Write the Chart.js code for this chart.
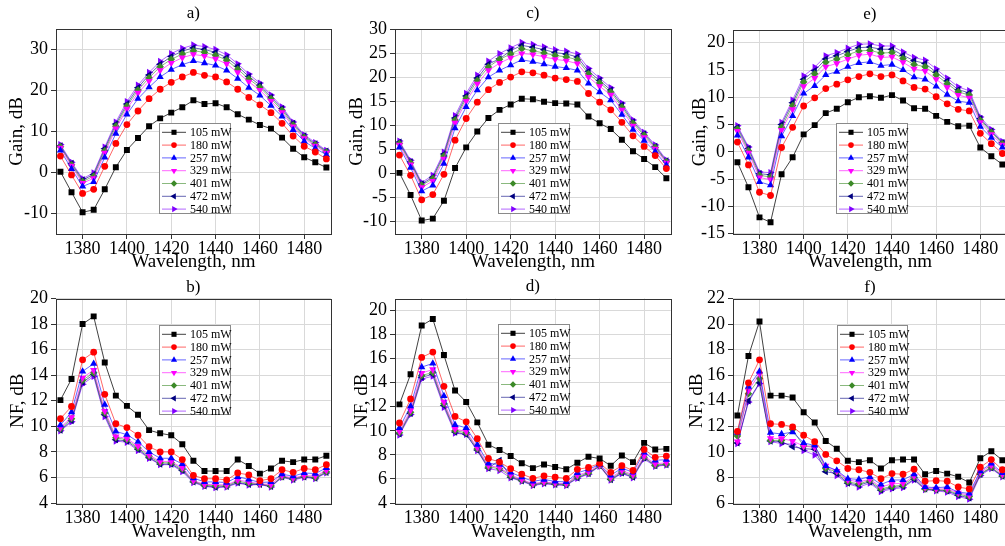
<!DOCTYPE html>
<html>
<head>
<meta charset="utf-8">
<script src="https://cdn.jsdelivr.net/npm/chart.js@4.4.0/dist/chart.umd.min.js"></script>
<style>
  html, body { margin: 0; padding: 0; background: #fff; }
  #wrap { position: relative; width: 1005px; height: 546px; overflow: hidden; }
  canvas { position: absolute; }
</style>
</head>
<body>
<div id="wrap">
  <canvas id="pa" width="335" height="273" style="left:0;top:0"></canvas>
  <canvas id="pc" width="340" height="273" style="left:335px;top:0"></canvas>
  <canvas id="pe" width="336" height="273" style="left:675px;top:0"></canvas>
  <canvas id="pb" width="335" height="273" style="left:0;top:273px"></canvas>
  <canvas id="pd" width="340" height="273" style="left:335px;top:273px"></canvas>
  <canvas id="pf" width="336" height="273" style="left:675px;top:273px"></canvas>
</div>
<script>
// wavelengths, nm
const wavelengths = [1370, 1375, 1380, 1385, 1390, 1395, 1400, 1405, 1410, 1415, 1420, 1425, 1430,
                     1435, 1440, 1445, 1450, 1455, 1460, 1465, 1470, 1475, 1480, 1485, 1490];
const powers = ['105 mW', '180 mW', '257 mW', '329 mW', '401 mW', '472 mW', '540 mW'];

const xTicks = [1380, 1400, 1420, 1440, 1460, 1480];
const gainTicksA = [-10, 0, 10, 20, 30];
const gainTicksC = [-10, -5, 0, 5, 10, 15, 20, 25, 30];
const gainTicksE = [-15, -10, -5, 0, 5, 10, 15, 20];
const nfTicksB = [4, 6, 8, 10, 12, 14, 16, 18, 20];
const nfTicksD = [4, 6, 8, 10, 12, 14, 16, 18, 20];
const nfTicksF = [6, 8, 10, 12, 14, 16, 18, 20, 22];

// gain, dB (rows follow powers)
const gainA = [
  [0.2, -4.8, -9.7, -9.1, -4.1, 1.3, 5.5, 8.4, 11.3, 13.2, 14.6, 15.9, 17.6, 16.7, 16.9, 15.9, 14.2, 12.9, 11.6, 10.7, 8.5, 5.8, 3.7, 2.5, 1.2],
  [4.0, -0.6, -5.1, -4.1, 1.5, 7.1, 11.7, 15.0, 18.0, 20.3, 22.0, 23.3, 24.4, 23.7, 23.3, 22.1, 20.3, 18.3, 16.5, 14.6, 12.0, 8.9, 6.4, 5.0, 3.3],
  [5.4, 0.9, -3.4, -2.3, 3.7, 9.5, 14.2, 18.0, 20.8, 23.3, 25.1, 26.3, 27.2, 26.7, 26.1, 24.9, 22.9, 20.7, 18.8, 16.3, 13.7, 10.4, 7.6, 5.9, 4.3],
  [6.0, 1.6, -2.6, -1.4, 4.8, 10.7, 15.5, 19.4, 22.3, 24.9, 26.7, 28.0, 28.8, 28.4, 27.7, 26.5, 24.4, 22.1, 20.1, 17.4, 14.7, 11.2, 8.3, 6.5, 4.8],
  [6.3, 1.9, -2.2, -0.9, 5.3, 11.3, 16.2, 20.1, 23.1, 25.8, 27.6, 28.9, 29.7, 29.3, 28.6, 27.4, 25.2, 22.8, 20.8, 18.0, 15.2, 11.6, 8.6, 6.8, 5.0],
  [6.5, 2.2, -1.8, -0.5, 5.8, 11.8, 16.7, 20.7, 23.8, 26.4, 28.3, 29.6, 30.4, 30.0, 29.3, 28.0, 25.9, 23.4, 21.3, 18.4, 15.6, 12.0, 8.9, 7.0, 5.2],
  [6.8, 2.5, -1.5, -0.1, 6.2, 12.3, 17.3, 21.3, 24.4, 27.1, 29.0, 30.3, 31.1, 30.7, 30.0, 28.7, 26.5, 24.0, 21.8, 18.9, 16.0, 12.3, 9.2, 7.3, 5.4]
];
const gainC = [
  [0.1, -4.5, -9.8, -9.4, -5.7, 1.1, 5.4, 8.7, 11.5, 13.2, 14.3, 15.5, 15.4, 14.9, 14.6, 14.5, 14.3, 11.8, 10.4, 9.2, 7.0, 4.6, 3.0, 1.3, -1.0],
  [3.8, -0.4, -5.5, -4.4, -0.2, 6.9, 11.4, 14.8, 17.4, 18.9, 20.0, 21.1, 20.9, 20.4, 19.8, 19.5, 19.1, 16.6, 14.8, 13.2, 10.6, 7.8, 5.6, 3.7, 1.0],
  [5.4, 1.2, -3.7, -2.5, 2.0, 9.4, 13.8, 17.3, 20.0, 21.4, 22.5, 23.6, 23.2, 22.7, 22.2, 21.9, 21.4, 18.7, 16.9, 15.2, 12.2, 9.1, 6.8, 4.5, 1.7],
  [5.9, 1.8, -2.9, -1.6, 3.0, 10.5, 15.0, 18.6, 21.4, 22.9, 24.0, 24.9, 24.7, 24.2, 23.7, 23.4, 22.8, 20.0, 18.1, 16.3, 13.2, 9.9, 7.5, 5.1, 2.2],
  [6.2, 2.2, -2.5, -1.1, 3.6, 11.1, 15.6, 19.3, 22.1, 23.7, 24.8, 25.9, 25.5, 25.0, 24.5, 24.2, 23.6, 20.7, 18.8, 16.9, 13.8, 10.4, 7.9, 5.4, 2.4],
  [6.5, 2.4, -2.2, -0.8, 4.0, 11.5, 16.1, 19.8, 22.7, 23.8, 25.5, 26.6, 26.2, 25.7, 25.1, 24.8, 24.2, 21.2, 19.3, 17.3, 14.2, 10.7, 8.2, 5.6, 2.6],
  [6.7, 2.7, -1.9, -0.4, 4.4, 12.0, 16.6, 20.4, 23.3, 24.9, 26.1, 27.2, 26.8, 26.3, 25.7, 25.4, 24.8, 21.8, 19.8, 17.8, 14.6, 11.1, 8.5, 5.9, 2.8]
];
const gainE = [
  [-1.9, -6.5, -12.0, -12.9, -4.1, -1.0, 3.2, 4.9, 7.1, 7.9, 9.1, 10.0, 10.2, 9.9, 10.4, 9.4, 8.0, 7.9, 6.6, 5.5, 4.7, 4.8, 0.8, -0.8, -2.3],
  [1.8, -2.4, -7.4, -8.0, 0.8, 4.5, 8.4, 9.9, 11.6, 12.4, 13.2, 13.8, 14.3, 13.8, 14.1, 13.0, 11.8, 11.5, 10.1, 8.8, 7.8, 7.5, 3.4, 1.5, -0.3],
  [3.0, -1.0, -5.5, -6.1, 2.9, 6.6, 10.7, 12.1, 14.1, 14.7, 15.6, 16.3, 16.5, 15.8, 16.0, 15.0, 13.7, 13.3, 12.0, 10.5, 9.3, 9.0, 4.6, 2.6, 0.8],
  [3.8, -0.2, -4.7, -5.1, 4.0, 7.8, 12.0, 13.5, 15.6, 16.2, 17.0, 17.7, 17.9, 17.3, 17.4, 16.4, 15.2, 14.8, 13.3, 11.8, 10.4, 9.9, 5.4, 3.2, 1.3],
  [4.2, 0.2, -4.3, -4.6, 4.5, 8.5, 12.8, 14.3, 16.4, 17.0, 17.8, 18.5, 18.6, 18.1, 18.2, 17.1, 16.0, 15.6, 14.1, 12.5, 11.0, 10.4, 5.8, 3.6, 1.5],
  [4.5, 0.6, -4.0, -4.2, 5.0, 9.0, 13.3, 14.9, 17.0, 17.6, 18.4, 19.1, 19.2, 18.8, 18.8, 17.7, 16.7, 16.2, 14.6, 13.0, 11.4, 10.8, 6.1, 3.8, 1.7],
  [4.8, 0.9, -3.7, -3.8, 5.4, 9.5, 13.9, 15.5, 17.6, 18.2, 19.0, 19.7, 19.8, 19.4, 19.4, 18.3, 17.3, 16.8, 15.2, 13.5, 11.9, 11.2, 6.4, 4.1, 1.9]
];

// noise figure, dB
const nfB = [
  [12.05, 13.7, 18.0, 18.6, 15.0, 12.4, 11.6, 10.9, 9.7, 9.45, 9.3, 8.6, 7.3, 6.5, 6.5, 6.5, 7.4, 6.9, 6.3, 6.7, 7.3, 7.2, 7.4, 7.4, 7.7],
  [10.6, 11.55, 15.2, 15.8, 12.5, 10.2, 9.9, 9.3, 8.4, 8.0, 8.0, 7.4, 6.15, 5.9, 5.9, 5.8, 6.35, 6.2, 5.75, 5.9, 6.6, 6.4, 6.7, 6.6, 7.0],
  [10.1, 11.1, 14.3, 14.9, 11.7, 9.6, 9.35, 8.8, 8.0, 7.5, 7.5, 7.05, 5.95, 5.65, 5.65, 5.6, 6.05, 5.85, 5.6, 5.65, 6.25, 6.1, 6.35, 6.3, 6.75],
  [9.9, 10.7, 13.8, 14.4, 11.2, 9.2, 9.05, 8.45, 7.75, 7.25, 7.25, 6.75, 5.75, 5.45, 5.45, 5.4, 5.8, 5.65, 5.5, 5.45, 6.15, 5.95, 6.15, 6.1, 6.55],
  [9.8, 10.6, 13.6, 14.2, 11.05, 9.1, 8.95, 8.3, 7.65, 7.15, 7.15, 6.65, 5.7, 5.4, 5.35, 5.35, 5.7, 5.55, 5.5, 5.35, 6.05, 5.9, 6.1, 6.0, 6.45],
  [9.7, 10.45, 13.45, 14.05, 10.9, 8.95, 8.85, 8.2, 7.55, 7.05, 7.05, 6.55, 5.65, 5.35, 5.25, 5.3, 5.6, 5.45, 5.45, 5.3, 6.05, 5.85, 6.05, 5.95, 6.4],
  [9.65, 10.35, 13.3, 13.9, 10.75, 8.85, 8.75, 8.1, 7.5, 7.0, 7.0, 6.45, 5.6, 5.3, 5.2, 5.25, 5.55, 5.4, 5.45, 5.25, 6.0, 5.8, 6.0, 5.9, 6.35]
];
const nfD = [
  [12.2, 14.7, 18.75, 19.3, 16.3, 13.35, 12.4, 10.7, 8.85, 8.4, 7.9, 7.3, 6.9, 7.2, 7.0, 6.8, 7.35, 7.85, 7.7, 7.1, 7.95, 7.4, 9.0, 8.45, 8.5],
  [10.65, 12.65, 16.1, 16.55, 13.7, 11.2, 10.75, 9.35, 7.7, 7.4, 6.85, 6.4, 6.05, 6.25, 6.15, 6.05, 6.8, 6.95, 7.3, 6.55, 7.1, 6.7, 8.45, 7.8, 7.9],
  [10.25, 12.05, 15.3, 15.6, 12.9, 10.5, 10.25, 8.85, 7.3, 7.2, 6.55, 6.15, 5.8, 5.95, 5.8, 5.75, 6.5, 6.8, 7.2, 6.3, 6.9, 6.55, 8.2, 7.55, 7.6],
  [9.95, 11.7, 14.8, 15.1, 12.4, 10.15, 9.95, 8.6, 7.1, 6.95, 6.35, 5.95, 5.6, 5.75, 5.65, 5.6, 6.3, 6.6, 7.15, 6.1, 6.7, 6.35, 7.9, 7.25, 7.35],
  [9.85, 11.55, 14.6, 14.85, 12.25, 10.0, 9.85, 8.5, 7.0, 6.85, 6.25, 5.9, 5.55, 5.7, 5.6, 5.55, 6.2, 6.5, 7.1, 6.0, 6.6, 6.25, 7.8, 7.15, 7.25],
  [9.75, 11.45, 14.45, 14.7, 12.1, 9.9, 9.7, 8.4, 6.9, 7.55, 6.15, 5.85, 5.5, 5.65, 5.55, 5.5, 6.1, 6.45, 7.1, 5.95, 6.5, 6.15, 7.75, 7.1, 7.2],
  [9.65, 11.35, 14.3, 14.55, 11.95, 9.8, 9.7, 8.35, 6.85, 6.7, 6.1, 5.8, 5.45, 5.6, 5.5, 5.45, 6.05, 6.4, 7.05, 5.9, 6.45, 6.1, 7.65, 7.05, 7.15]
];
const nfF = [
  [12.85, 17.5, 20.2, 14.4, 14.4, 14.25, 13.1, 12.3, 10.85, 10.25, 9.3, 9.2, 9.35, 8.7, 9.35, 9.4, 9.4, 8.25, 8.5, 8.3, 8.05, 7.6, 9.5, 10.05, 9.35],
  [11.6, 15.4, 17.2, 12.2, 12.15, 11.95, 11.3, 10.8, 9.8, 9.3, 8.7, 8.6, 8.4, 7.9, 8.3, 8.25, 8.65, 7.7, 7.75, 7.7, 7.25, 7.1, 8.8, 9.4, 8.6],
  [11.5, 15.1, 16.3, 11.5, 11.4, 11.55, 10.7, 10.5, 8.9, 8.55, 7.9, 7.85, 8.05, 7.45, 7.8, 7.8, 8.25, 7.25, 7.2, 7.25, 6.85, 6.75, 8.5, 9.1, 8.35],
  [10.8, 14.8, 16.1, 11.05, 11.05, 10.85, 10.45, 10.35, 8.9, 8.5, 7.8, 7.65, 7.85, 7.25, 7.5, 7.55, 8.1, 7.2, 7.1, 7.1, 6.8, 6.6, 8.4, 8.95, 8.25],
  [11.25, 14.55, 15.75, 10.9, 10.9, 11.75, 10.45, 10.45, 8.7, 8.45, 7.65, 7.5, 7.75, 7.1, 7.3, 7.4, 8.0, 7.1, 7.05, 7.0, 6.7, 6.5, 8.3, 8.8, 8.15],
  [10.7, 14.0, 15.4, 10.85, 10.8, 10.4, 10.25, 10.2, 8.45, 8.3, 7.55, 7.4, 7.65, 7.0, 7.2, 7.3, 7.85, 7.1, 7.0, 6.95, 6.6, 6.4, 8.25, 8.75, 8.1],
  [10.65, 13.9, 15.35, 10.8, 10.65, 10.6, 10.1, 9.75, 8.75, 8.15, 7.5, 7.25, 7.55, 6.9, 7.1, 7.2, 7.8, 7.05, 6.95, 6.85, 6.5, 6.3, 8.15, 8.7, 8.05]
];

const FONT = "'Liberation Serif', 'Times New Roman', serif";
const markColors = ['#000000', '#ff0000', '#0000ff', '#ff00ff', '#3c8a28', '#000080', '#8000ff'];
const lineColors = ['rgba(0,0,0,0.75)', 'rgba(255,0,0,0.6)', 'rgba(0,0,255,0.6)', 'rgba(255,0,255,0.6)',
                    'rgba(60,138,40,0.6)', 'rgba(0,0,128,0.6)', 'rgba(128,0,255,0.6)'];
const markers = [
  { style: 'rect', rot: 0, r: 4.2 },
  { style: 'circle', rot: 0, r: 3.4 },
  { style: 'triangle', rot: 0, r: 4.2 },
  { style: 'triangle', rot: 180, r: 4.2 },
  { style: 'rectRot', rot: 0, r: 3.8 },
  { style: 'triangle', rot: 270, r: 4.2 },
  { style: 'triangle', rot: 90, r: 4.2 }
];

// frame, panel letter and the boxed legend inside the plot
const panelDecor = {
  id: 'panelDecor',
  afterDatasetsDraw(chart, args, o) {
    const ctx = chart.ctx;
    const a = chart.chartArea;
    ctx.save();
    ctx.strokeStyle = '#333';
    ctx.lineWidth = 1;
    ctx.strokeRect(Math.round(a.left) + 0.5, Math.round(a.top) + 0.5,
                   Math.round(a.right - a.left), Math.round(a.bottom - a.top));

    ctx.fillStyle = '#000';
    ctx.font = '17px ' + FONT;
    ctx.textAlign = 'center';
    ctx.textBaseline = 'middle';
    ctx.fillText(o.letter, (a.left + a.right) / 2, o.letterY);

    const L = o.legend;
    ctx.fillStyle = '#fff';
    ctx.fillRect(L.x, L.y, L.w, L.h);
    ctx.strokeStyle = '#8a8a8a';
    ctx.strokeRect(L.x + 0.5, L.y + 0.5, L.w, L.h);
    ctx.font = '12px ' + FONT;
    ctx.textAlign = 'left';
    chart.data.datasets.forEach((ds, i) => {
      const cy = L.y + 9.3 + i * 12.8;
      ctx.strokeStyle = ds.borderColor;
      ctx.beginPath();
      ctx.moveTo(L.x + 3, cy);
      ctx.lineTo(L.x + 27, cy);
      ctx.stroke();
      ctx.fillStyle = ds.pointBackgroundColor;
      Chart.helpers.drawPoint(ctx, {
        pointStyle: ds.pointStyle, rotation: ds.pointRotation,
        radius: ds.pointRadius - 0.6, borderWidth: 0
      }, L.x + 15, cy);
      ctx.fillStyle = '#000';
      ctx.fillText(ds.label, L.x + 31, cy + 0.5);
    });
    ctx.restore();
  }
};

function makePanel(id, rows, p) {
  const datasets = rows.map((vals, i) => ({
    label: powers[i],
    data: wavelengths.map((w, j) => ({ x: w, y: vals[j] })),
    borderColor: lineColors[i],
    borderWidth: 1,
    pointStyle: markers[i].style,
    pointRotation: markers[i].rot,
    pointRadius: markers[i].r,
    pointBackgroundColor: markColors[i],
    pointBorderWidth: 0,
    tension: 0
  }));

  new Chart(document.getElementById(id), {
    type: 'line',
    data: { datasets: datasets },
    plugins: [panelDecor],
    options: {
      responsive: false,
      animation: false,
      events: [],
      layout: { padding: { left: 0, top: p.padTop, right: 3, bottom: 0 } },
      plugins: {
        legend: { display: false },
        tooltip: { enabled: false },
        panelDecor: { letter: p.letter, letterY: p.letterY, legend: p.legend }
      },
      scales: {
        x: {
          type: 'linear',
          min: 1368,
          max: 1492,
          afterBuildTicks: s => { s.ticks = xTicks.map(v => ({ value: v })); },
          afterFit: s => { s.height = p.xh; },
          grid: { color: '#d9d9d9', tickLength: 5, tickColor: '#333' },
          border: { display: false },
          ticks: { color: '#000', font: { family: FONT, size: 18 }, padding: -1, maxRotation: 0,
                   autoSkip: false, callback: v => String(v) },
          title: { display: true, text: 'Wavelength, nm', color: '#000',
                   font: { family: FONT, size: 19 }, padding: { top: 0, bottom: p.xtp } }
        },
        y: {
          min: p.ymin,
          max: p.ymax,
          afterBuildTicks: s => { s.ticks = p.yticks.map(v => ({ value: v })); },
          afterFit: s => { s.width = p.yw; },
          grid: { color: '#d9d9d9', tickLength: 5, tickColor: '#333' },
          border: { display: false },
          ticks: { color: '#000', font: { family: FONT, size: 18 }, padding: 3, callback: v => String(v) },
          title: { display: true, text: p.ytitle, color: '#000',
                   font: { family: FONT, size: 19 }, padding: { top: p.ytp, bottom: 0 } }
        }
      }
    }
  });
}

makePanel('pa', gainA, { letter: 'a)', letterY: 14, ytitle: 'Gain, dB', ymin: -15, ymax: 35, yticks: gainTicksA,
  padTop: 29, yw: 56, xh: 39, ytp: 5.3, xtp: 0, legend: { x: 159, y: 123, w: 71, h: 90 } });
makePanel('pc', gainC, { letter: 'c)', letterY: 14, ytitle: 'Gain, dB', ymin: -12.6, ymax: 30, yticks: gainTicksC,
  padTop: 29, yw: 60, xh: 39, ytp: 10.3, xtp: 0, legend: { x: 163, y: 123, w: 71, h: 90 } });
makePanel('pe', gainE, { letter: 'e)', letterY: 15, ytitle: 'Gain, dB', ymin: -15.05, ymax: 22.33, yticks: gainTicksE,
  padTop: 30, yw: 58, xh: 39, ytp: 13.6, xtp: 0, legend: { x: 161, y: 123, w: 71, h: 90 } });
makePanel('pb', nfB, { letter: 'b)', letterY: 15, ytitle: 'NF, dB', ymin: 4, ymax: 20, yticks: nfTicksB,
  padTop: 25.5, yw: 56, xh: 43, ytp: 6.9, xtp: 2.9, legend: { x: 159, y: 52, w: 71, h: 89 } });
makePanel('pd', nfD, { letter: 'd)', letterY: 14, ytitle: 'NF, dB', ymin: 4, ymax: 21, yticks: nfTicksD,
  padTop: 25.5, yw: 60, xh: 43, ytp: 15.3, xtp: 2.9, legend: { x: 163, y: 51, w: 71, h: 90 } });
makePanel('pf', nfF, { letter: 'f)', letterY: 15, ytitle: 'NF, dB', ymin: 6, ymax: 22, yticks: nfTicksF,
  padTop: 25.5, yw: 58, xh: 43, ytp: 10.3, xtp: 2.9, legend: { x: 162, y: 52, w: 70, h: 89 } });
</script>
</body>
</html>
